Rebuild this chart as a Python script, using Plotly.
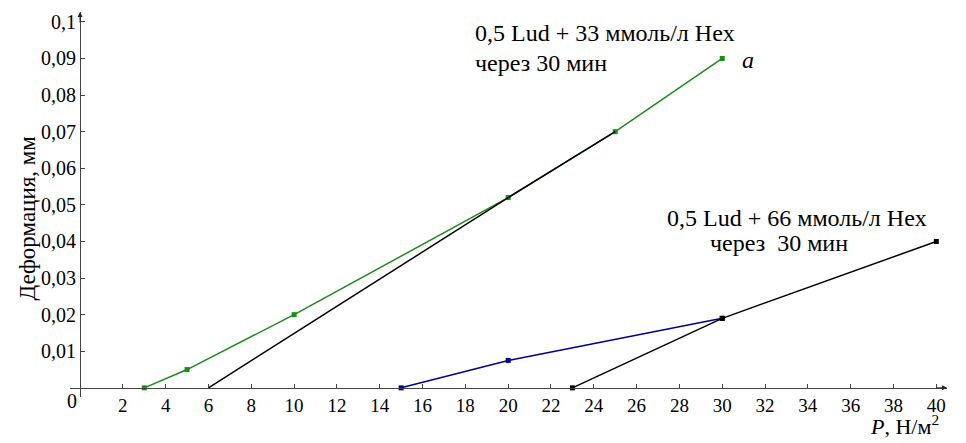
import plotly.graph_objects as go

# Data
green_x = [3, 5, 10, 20, 25, 30]
green_y = [0.0, 0.005, 0.020, 0.052, 0.070, 0.090]
black_a_x = [6, 20, 25]
black_a_y = [0.0, 0.052, 0.070]
blue_x = [15, 20, 30]
blue_y = [0.0, 0.0075, 0.019]
black_b_x = [23, 30, 40]
black_b_y = [0.0, 0.019, 0.040]

x_tickvals = list(range(2, 41, 2))
x_ticktext = [str(v) for v in x_tickvals]
y_tickvals = [0.01, 0.02, 0.03, 0.04, 0.05, 0.06, 0.07, 0.08, 0.09, 0.10]
y_ticktext = ["0,01", "0,02", "0,03", "0,04", "0,05", "0,06", "0,07", "0,08", "0,09", "0,1"]

FONT = "Times New Roman"
GREEN = "#1a8c1a"
BLUE = "#00008b"

xr = [-0.47, 40.5]
yr = [-0.0025, 0.1027]

fig = go.Figure()
fig.add_trace(go.Scatter(x=green_x, y=green_y, mode="lines+markers",
                         line=dict(color=GREEN, width=1.5),
                         marker=dict(symbol="square", size=5, color=GREEN)))
fig.add_trace(go.Scatter(x=black_a_x, y=black_a_y, mode="lines",
                         line=dict(color="black", width=1.5)))
fig.add_trace(go.Scatter(x=blue_x, y=blue_y, mode="lines+markers",
                         line=dict(color=BLUE, width=1.5),
                         marker=dict(symbol="square", size=5, color=BLUE)))
fig.add_trace(go.Scatter(x=black_b_x, y=black_b_y, mode="lines+markers",
                         line=dict(color="black", width=1.5),
                         marker=dict(symbol="square", size=5, color="black")))

x0frac = (0 - xr[0]) / (xr[1] - xr[0])
y0frac = (0 - yr[0]) / (yr[1] - yr[0])

fig.update_layout(
    width=966, height=443,
    margin=dict(l=70, r=19, t=12, b=46),
    plot_bgcolor="white", paper_bgcolor="white",
    showlegend=False,
    xaxis=dict(range=xr, tickvals=x_tickvals, ticktext=x_ticktext,
               showgrid=False, zeroline=False, showline=True, linecolor="#444",
               linewidth=1, ticks="inside", ticklen=4, tickcolor="#444",
               anchor="free", position=y0frac,
               tickfont=dict(size=19, family=FONT, color="black")),
    yaxis=dict(range=yr, tickvals=y_tickvals, ticktext=y_ticktext,
               showgrid=False, zeroline=False, showline=True, linecolor="#444",
               linewidth=1, ticks="inside", ticklen=4, tickcolor="#444",
               anchor="free", position=x0frac,
               tickfont=dict(size=20, family=FONT, color="black")),
)

ann = []
# axis arrows
ann.append(dict(x=xr[1], y=0, xref="x", yref="y", ax=-12, ay=0, text="",
                showarrow=True, arrowhead=2, arrowsize=1, arrowwidth=1, arrowcolor="#222"))
ann.append(dict(x=0, y=yr[1], xref="x", yref="y", ax=0, ay=12, text="",
                showarrow=True, arrowhead=2, arrowsize=1, arrowwidth=1, arrowcolor="#222"))
# origin label
ann.append(dict(x=0, y=0, xref="x", yref="y", text="0", showarrow=False,
                xanchor="right", yanchor="top", xshift=-1, yshift=0,
                font=dict(size=20, family=FONT, color="black")))
# axis titles
ann.append(dict(x=(27 - 70) / 877, y=0.5, xref="paper", yref="paper", yshift=-14,
                text="Деформация, мм", textangle=-90, showarrow=False,
                xanchor="center", yanchor="middle",
                font=dict(size=23, family=FONT, color="black")))
ann.append(dict(x=1, y=0, xref="paper", yref="paper", xanchor="right", yanchor="top",
                xshift=-6, yshift=-12,
                text="<i>P</i>, Н/м<sup>2</sup>", showarrow=False,
                font=dict(size=22, family=FONT, color="black")))
# curve labels
ann.append(dict(x=18.35, y=0.097, xref="x", yref="y", xanchor="left", yanchor="middle",
                text="0,5 Lud + 33 ммоль/л Hex", showarrow=False,
                font=dict(size=24, family=FONT, color="black")))
ann.append(dict(x=18.35, y=0.0888, xref="x", yref="y", xanchor="left", yanchor="middle",
                text="через 30 мин", showarrow=False,
                font=dict(size=24, family=FONT, color="black")))
ann.append(dict(x=31.2, y=0.0896, xref="x", yref="y", xanchor="center", yanchor="middle",
                text="<i>a</i>", showarrow=False,
                font=dict(size=24, family=FONT, color="black")))
ann.append(dict(x=33.48, y=0.0464, xref="x", yref="y", xanchor="center", yanchor="middle",
                text="0,5 Lud + 66 ммоль/л Hex", showarrow=False,
                font=dict(size=24, family=FONT, color="black")))
ann.append(dict(x=32.64, y=0.0396, xref="x", yref="y", xanchor="center", yanchor="middle",
                text="через  30 мин", showarrow=False,
                font=dict(size=24, family=FONT, color="black")))
ann.append(dict(x=40.96, y=0.0399, xref="x", yref="y", xanchor="center", yanchor="middle",
                text="<i>б</i>", showarrow=False,
                font=dict(size=24, family=FONT, color="black")))
fig.update_layout(annotations=ann)

fig.write_html("out.html")
